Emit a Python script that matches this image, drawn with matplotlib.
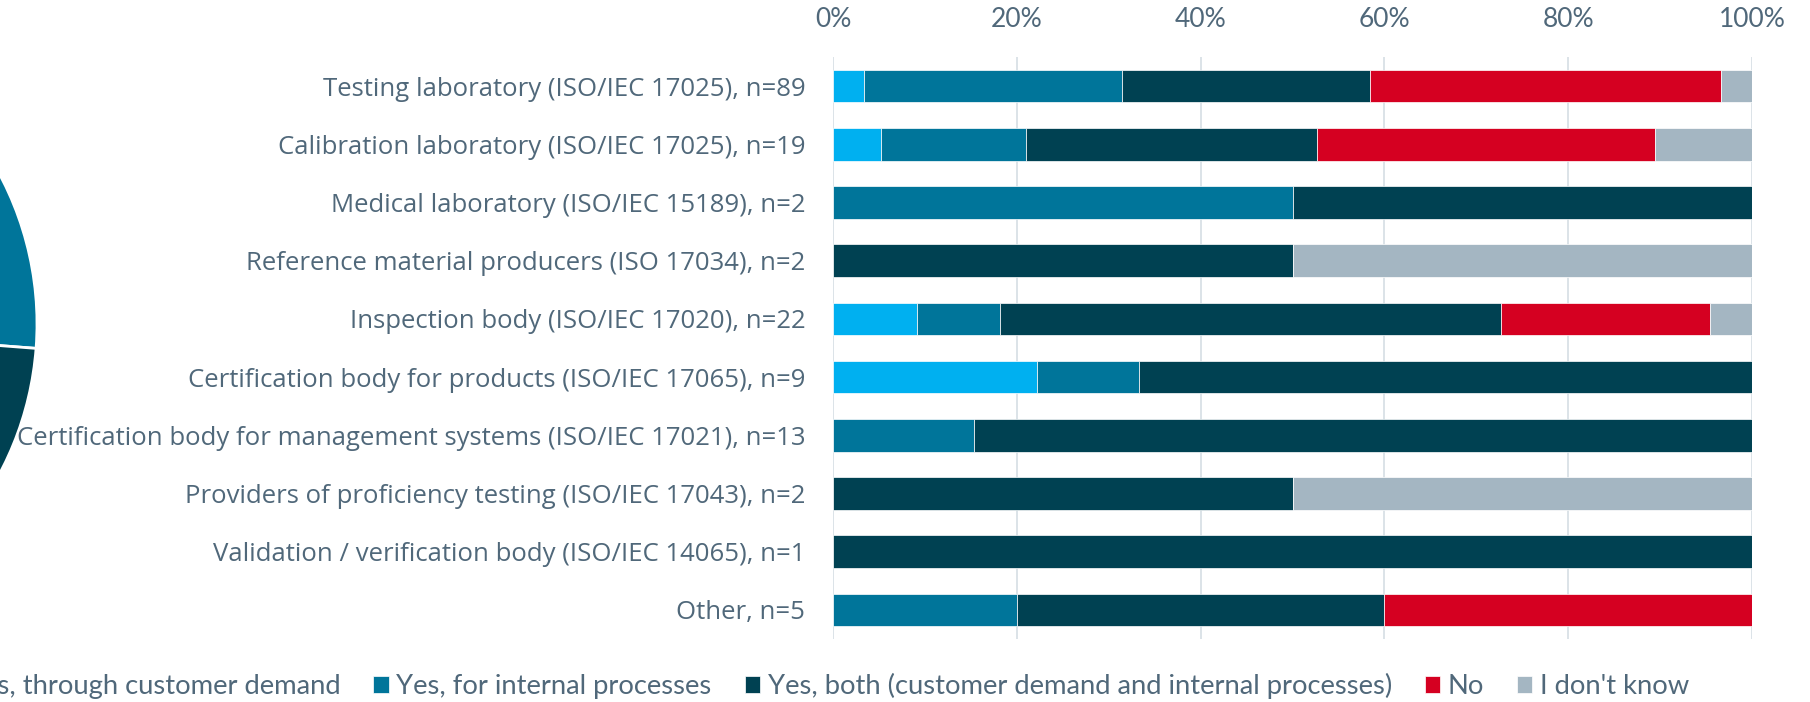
import numpy as np
import matplotlib
matplotlib.use("Agg")
from matplotlib import pyplot as plt
import matplotlib.ticker as mticker

# responses per accreditation scheme (counts)
categories = [
    "Testing laboratory (ISO/IEC 17025)",
    "Calibration laboratory (ISO/IEC 17025)",
    "Medical laboratory (ISO/IEC 15189)",
    "Reference material producers (ISO 17034)",
    "Inspection body (ISO/IEC 17020)",
    "Certification body for products (ISO/IEC 17065)",
    "Certification body for management systems (ISO/IEC 17021)",
    "Providers of proficiency testing (ISO/IEC 17043)",
    "Validation / verification body (ISO/IEC 14065)",
    "Other",
]
yes_customer = [3, 1, 0, 0, 2, 2, 0, 0, 0, 0]
yes_internal = [25, 3, 1, 0, 2, 1, 2, 0, 0, 1]
yes_both = [24, 6, 1, 1, 12, 6, 11, 1, 1, 2]
answer_no = [34, 7, 0, 0, 5, 0, 0, 0, 0, 2]
dont_know = [3, 2, 0, 1, 1, 0, 0, 1, 0, 0]

series_names = [
    "Yes, through customer demand",
    "Yes, for internal processes",
    "Yes, both (customer demand and internal processes)",
    "No",
    "I don't know",
]
colors = ["#00B0F0", "#00759A", "#004152", "#D50021", "#A4B6C2"]
text_color = "#50687A"
grid_color = "#D6DEE4"

counts = np.array([yes_customer, yes_internal, yes_both, answer_no, dont_know], dtype=float)
n = counts.sum(axis=0)
shares = counts / n * 100
labels = [f"{c}, n={int(k)}" for c, k in zip(categories, n)]

W, H = 1810, 702
fig = plt.figure(figsize=(W / 100, H / 100), dpi=100)

narrow = ["Lato", "DejaVu Sans"]

### overall pie, mostly outside the left edge
cx, cy, R = -281.5, 324, 318.5
ax_pie = fig.add_axes([(cx - R) / W, 1 - (cy + R) / H, 2 * R / W, 2 * R / H])
ax_pie.pie(counts.sum(axis=1), colors=colors, startangle=90, counterclock=False,
           wedgeprops=dict(edgecolor="white", linewidth=2))
ax_pie.set_xlim(-1, 1)
ax_pie.set_ylim(-1, 1)
ax_pie.set_aspect("auto")
ax_pie.axis("off")

### stacked 100% bars
ax = fig.add_axes([833 / W, 1 - 639 / H, (1752 - 833) / W, (639 - 57) / H])
y = np.arange(len(categories))
left = np.zeros(len(categories))
handles = []
for vals, name, col in zip(shares, series_names, colors):
    b = ax.barh(y, vals, left=left, height=0.56, color=col, label=name,
                edgecolor="white", linewidth=0.5, zorder=3)
    handles.append(b)
    left += vals

ax.set_xlim(0, 100)
ax.set_ylim(len(categories) - 0.5, -0.5)
ax.set_yticks(y)
ax.set_yticklabels(labels, fontsize=18.5, color=text_color, family="Open Sans")
ax.xaxis.set_major_locator(mticker.MultipleLocator(20))
ax.xaxis.set_major_formatter(mticker.FuncFormatter(lambda v, p: f"{v:.0f}%"))
ax.tick_params(axis="x", top=True, labeltop=True, bottom=False, labelbottom=False,
               length=0, pad=18, labelsize=19, labelcolor=text_color)
for t in ax.get_xticklabels():
    t.set_family(narrow)
ax.tick_params(axis="y", length=0, pad=20)
ax.grid(axis="x", color=grid_color, linewidth=1.2, zorder=0)
for s in ax.spines.values():
    s.set_visible(False)

leg = fig.legend(handles=handles, loc="center right", ncol=5,
                 bbox_to_anchor=(1700 / W, 1 - 686 / H), frameon=False,
                 prop=dict(family=narrow, size=19.7), labelcolor=text_color,
                 handlelength=0.55, handleheight=0.55, handletextpad=0.29,
                 columnspacing=1.2, borderaxespad=0)

plt.savefig("out.png", dpi=100)
plt.close()
